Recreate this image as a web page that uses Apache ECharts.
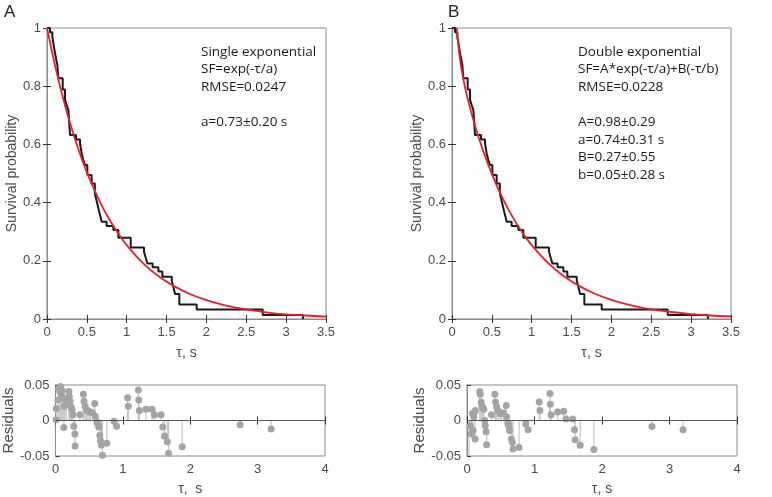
<!DOCTYPE html>
<html>
<head>
<meta charset="utf-8">
<script src="https://cdn.jsdelivr.net/npm/echarts@6/dist/echarts.min.js"></script>
<style>
html,body{margin:0;padding:0;background:#fff;}
#chart{width:772px;height:497px;}
</style>
</head>
<body>
<div id="chart"></div>
<script>
// Empirical survival function (same data in both panels): event times and survival after each drop
var stepTimes = [0, 0.038, 0.067, 0.088, 0.109, 0.13, 0.142, 0.197, 0.226, 0.247, 0.268, 0.289, 0.364, 0.414, 0.435, 0.456, 0.477, 0.506, 0.56, 0.60, 0.62, 0.64, 0.665, 0.686, 0.748, 0.832, 0.895, 1.05, 1.217, 1.24, 1.26, 1.325, 1.397, 1.447, 1.565, 1.585, 1.606, 1.66, 1.878, 2.706, 3.21];
var stepSurv  = [1, 0.985, 0.970, 0.934, 0.901, 0.873, 0.827, 0.789, 0.753, 0.735, 0.718, 0.632, 0.617, 0.604, 0.569, 0.546, 0.529, 0.495, 0.466, 0.432, 0.409, 0.386, 0.357, 0.334, 0.320, 0.306, 0.279, 0.246, 0.231, 0.209, 0.191, 0.178, 0.163, 0.145, 0.132, 0.111, 0.086, 0.050, 0.033, 0.014, 0];

// Fitted curves
var fitTimesA = [0, 0.1, 0.2, 0.3, 0.4, 0.5, 0.6, 0.7, 0.8, 0.9, 1.0, 1.2, 1.4, 1.6, 1.8, 2.0, 2.25, 2.5, 2.75, 3.0, 3.25, 3.5];
var fitValsA  = [1.0, 0.872, 0.760, 0.663, 0.578, 0.504, 0.440, 0.383, 0.334, 0.291, 0.254, 0.193, 0.147, 0.112, 0.085, 0.065, 0.046, 0.033, 0.023, 0.016, 0.012, 0.008];
var fitTimesB = [0.058, 0.1, 0.15, 0.2, 0.3, 0.4, 0.5, 0.6, 0.7, 0.8, 0.9, 1.0, 1.2, 1.4, 1.6, 1.8, 2.0, 2.25, 2.5, 2.75, 3.0, 3.25, 3.5];
var fitValsB  = [1.0, 0.893, 0.813, 0.753, 0.654, 0.571, 0.499, 0.435, 0.380, 0.332, 0.290, 0.254, 0.194, 0.148, 0.113, 0.086, 0.066, 0.047, 0.033, 0.024, 0.017, 0.012, 0.009];

// Residuals
var resTimesA = [0.01, 0.012, 0.035, 0.05, 0.065, 0.075, 0.09, 0.1, 0.114, 0.124, 0.13, 0.14, 0.16, 0.199, 0.205, 0.215, 0.225, 0.235, 0.245, 0.26, 0.27, 0.288, 0.29, 0.363, 0.413, 0.423, 0.44, 0.46, 0.48, 0.5, 0.52, 0.55, 0.582, 0.59, 0.615, 0.622, 0.64, 0.657, 0.667, 0.68, 0.696, 0.761, 0.87, 0.905, 1.07, 1.08, 1.229, 1.235, 1.245, 1.343, 1.433, 1.468, 1.567, 1.592, 1.617, 1.66, 1.677, 1.88, 2.74, 3.2];
var resValsA  = [0.001, 0.017, 0.029, 0.045, 0.04, 0.048, 0.035, 0.042, 0.032, -0.010, 0.02, 0.03, 0.028, 0.041, 0.034, 0.027, 0.02, 0.018, 0.015, 0.008, -0.008, -0.019, -0.036, 0.008, 0.037, 0.027, 0.02, 0.014, 0.014, 0.012, 0.012, 0.011, 0.024, 0.006, -0.002, -0.004, -0.009, -0.021, -0.028, -0.035, -0.049, -0.032, -0.001, -0.008, 0.032, 0.02, 0.043, 0.029, 0.014, 0.016, 0.016, 0.008, 0.008, -0.009, -0.022, -0.030, -0.046, -0.037, -0.006, -0.012];
var resTimesB = [0.03, 0.05, 0.065, 0.08, 0.09, 0.1, 0.11, 0.12, 0.124, 0.189, 0.195, 0.21, 0.22, 0.235, 0.25, 0.264, 0.27, 0.283, 0.29, 0.363, 0.413, 0.423, 0.44, 0.46, 0.49, 0.51, 0.54, 0.582, 0.59, 0.605, 0.615, 0.63, 0.657, 0.672, 0.681, 0.771, 0.87, 0.905, 1.07, 1.08, 1.229, 1.235, 1.245, 1.343, 1.433, 1.468, 1.567, 1.592, 1.602, 1.677, 1.88, 2.74, 3.2];
var resValsB  = [-0.12, -0.007, -0.019, 0.01, -0.014, 0.005, 0.012, -0.026, 0.014, 0.041, 0.037, 0.026, 0.02, 0.018, 0.016, 0, -0.007, -0.016, -0.034, 0.008, 0.037, 0.026, 0.019, 0.014, 0.01, 0.01, 0.011, 0.021, 0.005, -0.004, -0.007, -0.014, -0.026, -0.031, -0.04, -0.038, -0.005, -0.013, 0.026, 0.014, 0.038, 0.023, 0.008, 0.012, 0.013, 0.002, 0.002, -0.013, -0.027, -0.035, -0.041, -0.0085, -0.013];

// Tick labels
var survXTicks = ['0', '0.5', '1', '1.5', '2', '2.5', '3', '3.5'];
var survYTicks = ['0', '0.2', '0.4', '0.6', '0.8', '1'];
var resXTicks = ['0', '1', '2', '3', '4'];
var resYTicks = ['-0.05', '0', '0.05'];

// Texts
var panelLabels = ['A', 'B'];
var annotA = ['Single exponential', 'SF=exp(-\u03c4/a)', 'RMSE=0.0247', '', 'a=0.73\u00b10.20 s'];
var annotB = ['Double exponential', 'SF=A*exp(-\u03c4/a)+B(-\u03c4/b)', 'RMSE=0.0228', '', 'A=0.98\u00b10.29', 'a=0.74\u00b10.31 s', 'B=0.27\u00b10.55', 'b=0.05\u00b10.28 s'];
var xNameTop = '\u03c4, s';
var xNameResA = '\u03c4,  s';
var xNameResB = '\u03c4, s';
var yNameTop = 'Survival probability';
var yNameRes = 'Residuals';

function zip(a, b) { return a.map(function (v, i) { return [v, b[i]]; }); }

var AX = '#8a8a8a';
var LBL = '#4a4a4a';
var FONT = 'Liberation Sans, Arial, sans-serif';

function tickFmt(labels, min, step) {
  return function (v) {
    var i = Math.round((v - min) / step);
    return labels[i] !== undefined ? labels[i] : '';
  };
}

var grids = [
  {left: 47, top: 28, width: 279, height: 291},
  {left: 452, top: 28, width: 279, height: 291},
  {left: 55, top: 385, width: 270, height: 71},
  {left: 467, top: 385, width: 270, height: 71}
];
grids.forEach(function (g) { g.show = true; g.borderColor = AX; g.borderWidth = 1; g.backgroundColor = '#fff'; });

var xAxes = [], yAxes = [];
function addAxes(gi, isSurv, xName) {
  var xmin = 0, xmax = isSurv ? 3.5 : 4, xint = isSurv ? 0.5 : 1;
  var ymin = isSurv ? 0 : -0.05, ymax = isSurv ? 1 : 0.05, yint = isSurv ? 0.2 : 0.05;
  var xl = isSurv ? survXTicks : resXTicks, yl = isSurv ? survYTicks : resYTicks;
  xAxes.push({
    type: 'value', gridIndex: gi, min: xmin, max: xmax, interval: xint, position: 'bottom',
    axisLine: {show: true, lineStyle: {color: AX, width: 1}},
    axisTick: {show: true, inside: true, length: 4, lineStyle: {color: '#333'}},
    axisLabel: {color: LBL, fontSize: 13, fontFamily: FONT, margin: 7, formatter: tickFmt(xl, xmin, xint)},
    splitLine: {show: false},
    name: xName, nameLocation: 'middle', nameGap: isSurv ? 27 : 26,
    nameTextStyle: {color: LBL, fontSize: 14, fontFamily: FONT}
  });
  xAxes.push({
    type: 'value', gridIndex: gi, min: xmin, max: xmax, interval: xint, position: 'top',
    axisLine: {show: false}, axisTick: {show: true, inside: true, length: 4, lineStyle: {color: '#333'}},
    axisLabel: {show: false}, splitLine: {show: false}
  });
  yAxes.push({
    type: 'value', gridIndex: gi, min: ymin, max: ymax, interval: yint, position: 'left',
    axisLine: {show: true, lineStyle: {color: AX, width: 1}},
    axisTick: {show: true, inside: true, length: 4, lineStyle: {color: '#333'}},
    axisLabel: {color: LBL, fontSize: 13, fontFamily: FONT, margin: 6, formatter: tickFmt(yl, ymin, yint)},
    splitLine: {show: false},
    name: isSurv ? yNameTop : yNameRes, nameLocation: 'middle', nameGap: isSurv ? 21 : 35,
    nameTextStyle: {color: LBL, fontSize: isSurv ? 14 : 15, fontFamily: FONT}
  });
  yAxes.push({
    type: 'value', gridIndex: gi, min: ymin, max: ymax, interval: yint, position: 'right',
    axisLine: {show: false}, axisTick: {show: isSurv, inside: true, length: 4, lineStyle: {color: '#333'}},
    axisLabel: {show: false}, splitLine: {show: false}
  });
}
addAxes(0, true, xNameTop);
addAxes(1, true, xNameTop);
addAxes(2, false, xNameResA);
addAxes(3, false, xNameResB);

var stepData = zip(stepTimes, stepSurv);

function stemSeries(axIdx, times, vals) {
  return {
    type: 'custom', xAxisIndex: axIdx * 2, yAxisIndex: axIdx * 2, clip: true, silent: true,
    data: zip(times, vals),
    renderItem: function (params, api) {
      var p0 = api.coord([api.value(0), 0]);
      var p1 = api.coord([api.value(0), api.value(1)]);
      return {type: 'line', shape: {x1: p0[0], y1: p0[1], x2: p1[0], y2: p1[1]}, style: {stroke: '#c6c6c6', lineWidth: 1.2}};
    },
    z: 2
  };
}
function dotSeries(axIdx, times, vals) {
  return {
    type: 'scatter', xAxisIndex: axIdx * 2, yAxisIndex: axIdx * 2, clip: true, silent: true,
    data: zip(times, vals), symbol: 'circle', symbolSize: 7,
    itemStyle: {color: '#a4a4a4', opacity: 1}, z: 3,
    markLine: {silent: true, symbol: 'none', label: {show: false}, lineStyle: {color: '#555', type: 'solid', width: 1}, data: [{yAxis: 0}]}
  };
}

var series = [
  {type: 'line', xAxisIndex: 0, yAxisIndex: 0, data: stepData, step: 'end', showSymbol: false, lineStyle: {color: '#1a1a1a', width: 2}, z: 2, silent: true},
  {type: 'line', xAxisIndex: 0, yAxisIndex: 0, data: zip(fitTimesA, fitValsA), smooth: 0.3, showSymbol: false, lineStyle: {color: '#e8202a', width: 1.8}, z: 3, silent: true},
  {type: 'line', xAxisIndex: 2, yAxisIndex: 2, data: stepData, step: 'end', showSymbol: false, lineStyle: {color: '#1a1a1a', width: 2}, z: 2, silent: true},
  {type: 'line', xAxisIndex: 2, yAxisIndex: 2, data: zip(fitTimesB, fitValsB), smooth: 0.3, showSymbol: false, lineStyle: {color: '#e8202a', width: 1.8}, z: 3, silent: true},
  stemSeries(2, resTimesA, resValsA),
  dotSeries(2, resTimesA, resValsA),
  stemSeries(3, resTimesB, resValsB),
  dotSeries(3, resTimesB, resValsB)
];

var annFont = '13.5px "Open Sans", sans-serif';
var graphic = [
  {type: 'text', left: 4, top: 4, style: {text: panelLabels[0], font: '17px "Liberation Sans", Arial, sans-serif', fill: '#222'}},
  {type: 'text', left: 448, top: 4, style: {text: panelLabels[1], font: '17px "Liberation Sans", Arial, sans-serif', fill: '#222'}},
  {type: 'text', left: 201, top: 43, style: {text: annotA.join('\n'), font: annFont, lineHeight: 17.6, fill: '#1a1a1a'}},
  {type: 'text', left: 578, top: 43, style: {text: annotB.join('\n'), font: annFont, lineHeight: 17.6, fill: '#1a1a1a'}}
];

var chart = echarts.init(document.getElementById('chart'), null, {renderer: 'canvas'});
chart.setOption({
  animation: false,
  backgroundColor: '#fff',
  grid: grids,
  xAxis: xAxes,
  yAxis: yAxes,
  series: series,
  graphic: graphic
});
</script>
</body>
</html>
